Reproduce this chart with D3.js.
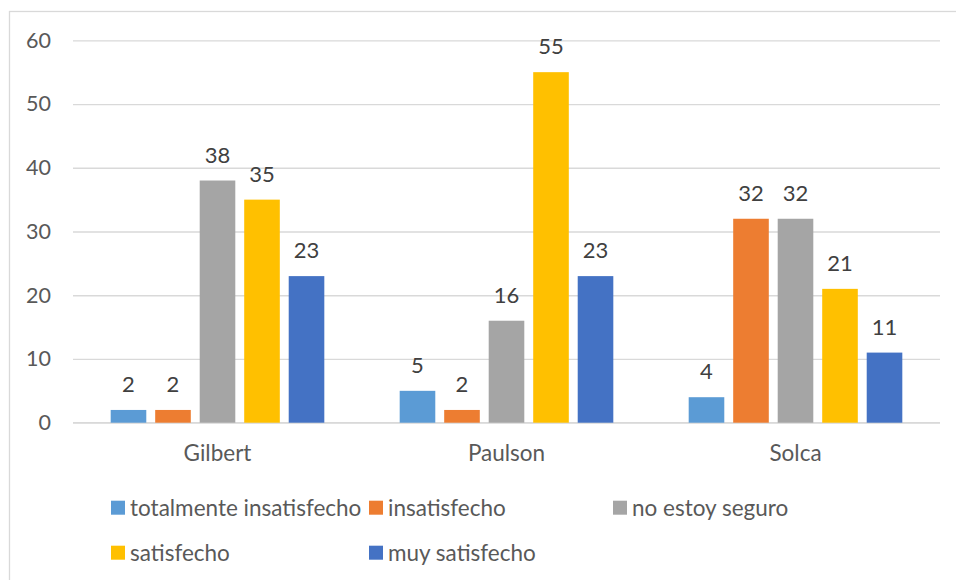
<!DOCTYPE html>
<html>
<head>
<meta charset="utf-8">
<script src="https://cdn.jsdelivr.net/npm/d3@7"></script>
<style>
  html, body { margin: 0; padding: 0; background: #fff; }
  svg { display: block; }
  text { font-family: Lato, "Open Sans", sans-serif; }
</style>
</head>
<body>
<svg id="chart" width="956" height="580"></svg>
<script>
// Survey responses per hospital
const categories = ["Gilbert", "Paulson", "Solca"];
const seriesNames = ["totalmente insatisfecho", "insatisfecho", "no estoy seguro", "satisfecho", "muy satisfecho"];
const totalmenteInsatisfecho = [2, 5, 4];
const insatisfecho = [2, 2, 32];
const noEstoySeguro = [38, 16, 32];
const satisfecho = [35, 55, 21];
const muySatisfecho = [23, 23, 11];
const yTicks = [0, 10, 20, 30, 40, 50, 60];
const seriesColors = ["#5B9BD5", "#ED7D31", "#A5A5A5", "#FFC000", "#4472C4"];

const seriesValues = [totalmenteInsatisfecho, insatisfecho, noEstoySeguro, satisfecho, muySatisfecho];

const svg = d3.select("#chart");
const plot = { left: 73, right: 940, top: 40.3, bottom: 422.7 };

// chart frame
svg.append("rect")
  .attr("x", 9.5).attr("y", 11.5)
  .attr("width", 960).attr("height", 620)
  .attr("fill", "#fff").attr("stroke", "#D9D9D9").attr("stroke-width", 1.3);

const y = d3.scaleLinear().domain([0, 60]).range([plot.bottom, plot.top]);

const x0 = d3.scaleBand().domain(categories)
  .range([plot.left, plot.right])
  .paddingInner(0.23).paddingOuter(0.115);

const x1 = d3.scaleBand().domain(d3.range(seriesNames.length))
  .range([0, x0.bandwidth()])
  .paddingInner(0.2).paddingOuter(0.1);

// gridlines + value axis labels
const yAxis = d3.axisLeft(y).tickValues(yTicks).tickSize(-(plot.right - plot.left)).tickPadding(22);
const gy = svg.append("g").attr("transform", `translate(${plot.left},0)`).call(yAxis);
gy.select(".domain").remove();
gy.selectAll(".tick line").attr("stroke", "#D9D9D9").attr("stroke-width", 1.3);
gy.selectAll(".tick text")
  .attr("fill", "#595959").attr("font-size", 21.5)
  .attr("font-family", "Lato, sans-serif");

// category axis
const xAxis = d3.axisBottom(x0).tickSize(0).tickPadding(22);
const gx = svg.append("g").attr("transform", `translate(0,${plot.bottom})`).call(xAxis);
gx.select(".domain").attr("stroke", "#D9D9D9").attr("stroke-width", 1.3)
  .attr("d", `M${plot.left},0H${plot.right}`);
gx.selectAll(".tick text")
  .attr("fill", "#595959").attr("font-size", 22.5)
  .attr("font-family", "Lato, sans-serif");

// bars
const rows = categories.map((c, i) => ({
  cat: c,
  vals: seriesValues.map((s, j) => ({ j, v: s[i] }))
}));

const groups = svg.append("g").selectAll("g").data(rows).join("g")
  .attr("transform", d => `translate(${x0(d.cat)},0)`);

groups.selectAll("rect").data(d => d.vals).join("rect")
  .attr("x", d => x1(d.j))
  .attr("y", d => y(d.v))
  .attr("width", x1.bandwidth())
  .attr("height", d => y(0) - y(d.v))
  .attr("fill", d => seriesColors[d.j]);

groups.selectAll("text.val").data(d => d.vals).join("text")
  .attr("class", "val")
  .attr("x", d => x1(d.j) + x1.bandwidth() / 2)
  .attr("y", d => y(d.v) - 25.5)
  .attr("dy", "0.35em")
  .attr("text-anchor", "middle")
  .attr("fill", "#404040")
  .attr("font-size", 22)
  .text(d => d.v);

// legend
const legendCols = [111, 369, 613];
const legendRows = [507.7, 552.7];
const legend = svg.append("g").selectAll("g").data(seriesNames).join("g")
  .attr("transform", (d, i) => `translate(${legendCols[i % 3]},${legendRows[Math.floor(i / 3)]})`);
legend.append("rect")
  .attr("x", 0).attr("y", -7).attr("width", 14).attr("height", 14)
  .attr("fill", (d, i) => seriesColors[i]);
legend.append("text")
  .attr("x", 19).attr("dy", "0.35em")
  .attr("fill", "#595959").attr("font-size", 22.5)
  .text(d => d);
</script>
</body>
</html>
